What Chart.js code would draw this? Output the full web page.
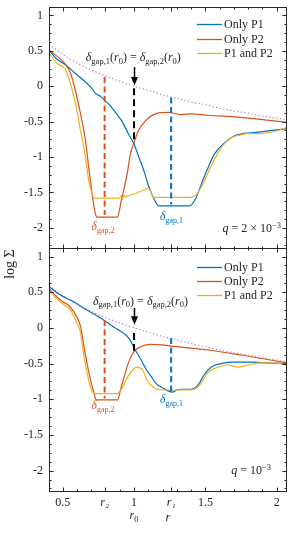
<!DOCTYPE html>
<html><head><meta charset="utf-8">
<script src="https://cdn.jsdelivr.net/npm/chart.js@4.4.1/dist/chart.umd.min.js"></script>
<style>
html,body{margin:0;padding:0;background:#fff;}
#wrap{position:relative;width:299px;height:533px;overflow:hidden;background:#fff;}
canvas{position:absolute;left:0;top:0;}
</style></head><body>
<div id="wrap"><canvas id="c1" width="299" height="533"></canvas><canvas id="c2" width="299" height="533"></canvas></div>
<script>
// ---------- data ----------
const xMin = 0.404, xMax = 2.072, yMin = -2.30, yMax = 1.12;
const r1 = 1.26, r2 = 0.794, r0 = 1.0;
const xTickValues = [0.5, r2, 1, r1, 1.5, 2];
const xTickLabels = ['0.5', 'r₂', '1', 'r₁', '1.5', '2'];
const yTickValues = [-2, -1.5, -1, -0.5, 0, 0.5, 1];
const yTickLabels = ['-2', '-1.5', '-1', '-0.5', '0', '0.5', '1'];
const seriesNames = ['Only P1', 'Only P2', 'P1 and P2'];

// initial profile (dotted)
const initR = [0.404,0.5,0.6,0.7,0.8,0.9,1.0,1.1,1.2,1.3,1.4,1.5,1.6,1.7,1.8,1.9,2.0,2.072];
const initY = [0.59,0.45,0.33,0.23,0.145,0.07,0.0,-0.06,-0.12,-0.17,-0.22,-0.26,-0.31,-0.35,-0.38,-0.42,-0.45,-0.475];

// top panel, q = 2e-3
const topP1R = [0.404,0.45,0.52,0.59,0.66,0.70,0.73,0.77,0.80,0.84,0.87,0.92,0.96,1.00,1.03,1.07,1.10,1.13,1.15,1.17,1.39,1.434,1.47,1.517,1.563,1.634,1.704,1.76,1.82,1.90,1.986,2.072];
const topP1Y = [0.51,0.40,0.30,0.18,0.06,-0.02,-0.10,-0.15,-0.21,-0.29,-0.37,-0.51,-0.67,-0.82,-0.98,-1.20,-1.40,-1.55,-1.63,-1.69,-1.69,-1.58,-1.39,-1.16,-0.96,-0.80,-0.70,-0.67,-0.66,-0.64,-0.62,-0.60];
const topP2R = [0.404,0.45,0.52,0.554,0.589,0.625,0.66,0.683,0.707,0.725,0.742,0.885,0.895,0.91,0.93,0.955,0.975,1.00,1.03,1.08,1.15,1.24,1.33,1.40,1.52,1.75,1.98,2.072];
const topP2Y = [0.51,0.44,0.31,0.19,-0.06,-0.39,-0.77,-1.16,-1.53,-1.77,-1.85,-1.85,-1.78,-1.62,-1.45,-1.20,-0.95,-0.80,-0.63,-0.49,-0.39,-0.37,-0.40,-0.39,-0.41,-0.44,-0.49,-0.51];
const topBothR = [0.404,0.45,0.52,0.554,0.589,0.625,0.66,0.683,0.707,0.72,0.90,0.912,0.92,0.928,0.94,0.97,1.01,1.05,1.08,1.10,1.12,1.135,1.40,1.446,1.48,1.54,1.61,1.68,1.74,1.80,1.87,1.986,2.072];
const topBothY = [0.47,0.34,0.23,0.04,-0.24,-0.63,-1.01,-1.34,-1.52,-1.58,-1.58,-1.54,-1.60,-1.54,-1.56,-1.54,-1.52,-1.48,-1.46,-1.44,-1.50,-1.57,-1.57,-1.51,-1.39,-1.13,-0.87,-0.73,-0.69,-0.67,-0.67,-0.64,-0.58];
const topGap2Y = [0.13, -1.82];
const topGap1Y = [-0.16, -1.67];
const topR0Y = [-0.03, -0.81];
const topArrowY = [0.27, 0.01];

// bottom panel, q = 1e-3
const botP1R = [0.404,0.484,0.575,0.67,0.765,0.86,0.93,0.97,1.00,1.05,1.09,1.12,1.15,1.20,1.27,1.30,1.33,1.40,1.45,1.49,1.54,1.61,1.70,1.82,1.94,2.072];
const botP1Y = [0.58,0.46,0.37,0.25,0.14,0.01,-0.08,-0.16,-0.28,-0.45,-0.60,-0.68,-0.77,-0.84,-0.90,-0.87,-0.86,-0.86,-0.80,-0.66,-0.55,-0.50,-0.48,-0.48,-0.49,-0.50];
const botP2R = [0.404,0.484,0.55,0.60,0.625,0.645,0.67,0.695,0.72,0.735,0.885,0.905,0.93,0.96,1.00,1.05,1.12,1.21,1.28,1.52,1.75,2.072];
const botP2Y = [0.55,0.39,0.30,0.15,0.02,-0.21,-0.49,-0.73,-0.92,-1.01,-1.01,-0.87,-0.69,-0.49,-0.33,-0.26,-0.23,-0.24,-0.26,-0.31,-0.38,-0.49];
const botBothR = [0.404,0.484,0.554,0.60,0.625,0.645,0.67,0.695,0.72,0.74,0.885,0.92,0.955,0.99,1.02,1.06,1.09,1.14,1.21,1.40,1.46,1.52,1.59,1.66,1.73,1.80,1.89,1.98,2.072];
const botBothY = [0.53,0.36,0.25,0.07,-0.07,-0.35,-0.62,-0.83,-0.92,-0.92,-0.92,-0.83,-0.69,-0.59,-0.55,-0.59,-0.73,-0.84,-0.87,-0.87,-0.80,-0.62,-0.55,-0.52,-0.55,-0.52,-0.49,-0.49,-0.52];
const botGap2Y = [0.11, -0.99];
const botGap1Y = [-0.14, -0.90];
const botR0Y = [-0.07, -0.32];
const botArrowY = [0.28, 0.045];

// ---------- styling ----------
const SERIF = '"Liberation Serif","DejaVu Serif",serif';
const BLUE = '#0072BD', ORANGE = '#D95319', YELLOW = '#EDB120', PURPLE = '#a873bf', AXIS = '#262626';
const COLORS = [BLUE, ORANGE, YELLOW];

function xy(rs, ys) { return rs.map((r, i) => ({x: r, y: ys[i]})); }
function fnt(size, style) { return (style || 'normal') + ' ' + size + 'px ' + SERIF; }
function runs(ctx, parts, x, y, align, color) {
  ctx.save();
  ctx.fillStyle = color || AXIS; ctx.textBaseline = 'alphabetic'; ctx.textAlign = 'left';
  let w = 0;
  parts.forEach(p => { ctx.font = fnt(p[1], p[2]); w += ctx.measureText(p[0]).width; });
  let cx = align === 'center' ? x - w / 2 : align === 'right' ? x - w : x;
  parts.forEach(p => { ctx.font = fnt(p[1], p[2]); ctx.fillText(p[0], cx, y + (p[3] || 0)); cx += ctx.measureText(p[0]).width; });
  ctx.restore();
}
const SUB = 8.5, MAIN = 12;
const eqParts = [['δ',MAIN,'italic'],['gap,1',SUB,'',2.5],['(',MAIN],['r',MAIN,'italic'],['0',SUB,'',2.5],[')',MAIN],[' = ',MAIN],
                 ['δ',MAIN,'italic'],['gap,2',SUB,'',2.5],['(',MAIN],['r',MAIN,'italic'],['0',SUB,'',2.5],[')',MAIN]];

function drawFrame(chart) {
  const {ctx, chartArea: a, scales: {x, y}} = chart;
  ctx.save();
  ctx.strokeStyle = AXIS; ctx.lineWidth = 1;
  ctx.beginPath();
  const T = a.top, B = a.bottom, L = a.left, R = a.right;
  const vl = (p, len) => { const X = Math.round(p) + 0.5; ctx.moveTo(X, B); ctx.lineTo(X, B - len); ctx.moveTo(X, T); ctx.lineTo(X, T + len); };
  const hl = (p, len) => { const Y = Math.round(p) + 0.5; ctx.moveTo(L, Y); ctx.lineTo(L + len, Y); ctx.moveTo(R, Y); ctx.lineTo(R - len, Y); };
  xTickValues.forEach(v => vl(x.getPixelForValue(v), 4.5));
  for (let k = 5; k <= 20; k++) {
    const v = k / 10;
    if (xTickValues.some(t => Math.abs(t - v) < 0.03)) continue;
    vl(x.getPixelForValue(v), 2.5);
  }
  yTickValues.forEach(v => hl(y.getPixelForValue(v), 4.5));
  for (let k = -18; k <= 9; k++) {
    const v = k / 8;
    if (v < yMin || v > yMax || Math.abs(v * 2 - Math.round(v * 2)) < 1e-6) continue;
    hl(y.getPixelForValue(v), 2.5);
  }
  ctx.stroke();
  ctx.strokeRect(L + 0.5, T + 0.5, R - L - 1, B - T - 1);
  ctx.restore();
}

function makePanel(id, cfg) {
  const curve = {pointRadius: 0, borderWidth: 1.2, fill: false, cubicInterpolationMode: 'monotone'};
  const dash = {pointRadius: 0, borderWidth: 2, fill: false, borderDash: [6, 3.5]};
  const datasets = [
    Object.assign({}, curve, {data: xy(initR, initY), borderColor: PURPLE, borderWidth: 1.1, borderDash: [1.2, 2.4], order: 6}),
    Object.assign({}, curve, {data: xy(cfg.p1r, cfg.p1y), borderColor: BLUE, order: 5}),
    Object.assign({}, curve, {data: xy(cfg.p2r, cfg.p2y), borderColor: ORANGE, order: 4}),
    Object.assign({}, curve, {data: xy(cfg.bothR, cfg.bothY), borderColor: YELLOW, order: 3}),
    Object.assign({}, dash, {data: xy([r2, r2], cfg.gap2Y), borderColor: ORANGE, order: 1}),
    Object.assign({}, dash, {data: xy([r1, r1], cfg.gap1Y), borderColor: BLUE, order: 1}),
    Object.assign({}, dash, {data: xy([r0, r0], cfg.r0Y), borderColor: '#000', borderDash: [7, 4], order: 1}),
  ];
  const decor = {
    id: 'decor',
    afterDraw(chart) {
      const {ctx, scales: {x, y}} = chart;
      drawFrame(chart);
      // arrow
      const ax = Math.round(x.getPixelForValue(r0)) + 0.5;
      const y0 = y.getPixelForValue(cfg.arrowY[0]), y1 = y.getPixelForValue(cfg.arrowY[1]);
      ctx.save();
      ctx.strokeStyle = '#000'; ctx.fillStyle = '#000'; ctx.lineWidth = 1.5;
      ctx.beginPath(); ctx.moveTo(ax, y0); ctx.lineTo(ax, y1 - 7); ctx.stroke();
      ctx.beginPath(); ctx.moveTo(ax - 3.5, y1 - 8.5); ctx.lineTo(ax + 3.5, y1 - 8.5); ctx.lineTo(ax, y1); ctx.closePath(); ctx.fill();
      ctx.restore();
      // equation
      runs(ctx, eqParts, cfg.eq.x, cfg.eq.y, 'center');
      // legend
      seriesNames.forEach((n, i) => {
        const ly = cfg.legendY[i] + 0.5;
        ctx.save(); ctx.strokeStyle = COLORS[i]; ctx.lineWidth = 1.3;
        ctx.beginPath(); ctx.moveTo(197, ly); ctx.lineTo(222, ly); ctx.stroke(); ctx.restore();
        ctx.save(); ctx.fillStyle = AXIS; ctx.font = fnt(12); ctx.textBaseline = 'middle'; ctx.textAlign = 'left';
        ctx.fillText(n, 224, ly + 0.5); ctx.restore();
      });
      // q label
      runs(ctx, cfg.qParts, cfg.q.x, cfg.q.y, 'right');
      // gap labels
      runs(ctx, [['δ',11.5,'italic'],['gap,2',8,'',2.5]], cfg.gap2Lbl.x, cfg.gap2Lbl.y, 'center', ORANGE);
      runs(ctx, [['δ',11.5,'italic'],['gap,1',8,'',2.5]], cfg.gap1Lbl.x, cfg.gap1Lbl.y, 'center', BLUE);
      if (cfg.showX) {
        runs(ctx, [['r',12,'italic'],['0',SUB,'',2.5]], x.getPixelForValue(r0), 519, 'center');
        runs(ctx, [['r',12.5,'italic']], (chart.chartArea.left + chart.chartArea.right) / 2, 521, 'center');
        ctx.save(); ctx.translate(10, 264); ctx.rotate(-Math.PI / 2);
        ctx.fillStyle = AXIS; ctx.font = fnt(14); ctx.textAlign = 'center'; ctx.textBaseline = 'middle';
        ctx.fillText('log Σ', 0, 0); ctx.restore();
      }
    }
  };
  return new Chart(document.getElementById(id), {
    type: 'line',
    data: {datasets},
    plugins: [decor],
    options: {
      responsive: false, animation: false, events: [],
      layout: {padding: {top: cfg.padTop, bottom: cfg.padBottom, left: 0, right: 12}},
      plugins: {legend: {display: false}, tooltip: {enabled: false}},
      scales: {
        x: {
          type: 'linear', min: xMin, max: xMax,
          grid: {display: false, drawTicks: false}, border: {display: false},
          afterBuildTicks: s => { s.ticks = xTickValues.map(v => ({value: v})); },
          afterFit: s => { s.height = cfg.xHeight; s.paddingLeft = 0; s.paddingRight = 0; },
          ticks: {
            display: cfg.showX, autoSkip: false, maxRotation: 0, minRotation: 0, padding: 4, color: AXIS,
            callback: (v, i) => xTickLabels[i],
            font: c => ({family: SERIF, size: 12, style: (xTickLabels[c.index] || '').startsWith('r') ? 'italic' : 'normal'})
          }
        },
        y: {
          type: 'linear', min: yMin, max: yMax,
          grid: {display: false, drawTicks: false}, border: {display: false},
          afterBuildTicks: s => { s.ticks = yTickValues.map(v => ({value: v})); },
          afterFit: s => { s.width = 49; s.paddingTop = 0; s.paddingBottom = 0; },
          ticks: {padding: 6, color: AXIS, callback: (v, i) => yTickLabels[i], font: {family: SERIF, size: 12}}
        }
      }
    }
  });
}

makePanel('c1', {
  p1r: topP1R, p1y: topP1Y, p2r: topP2R, p2y: topP2Y, bothR: topBothR, bothY: topBothY,
  gap2Y: topGap2Y, gap1Y: topGap1Y, r0Y: topR0Y, arrowY: topArrowY,
  padTop: 7, padBottom: 284, xHeight: 0, showX: false,
  eq: {x: 133.3, y: 61}, legendY: [24, 39, 53],
  qParts: [['q',12,'italic'],[' = 2 × 10',12],['−3',8.5,'',-4.5]], q: {x: 281, y: 232},
  gap2Lbl: {x: 103, y: 230}, gap1Lbl: {x: 171.5, y: 220}
});
makePanel('c2', {
  p1r: botP1R, p1y: botP1Y, p2r: botP2R, p2y: botP2Y, bothR: botBothR, bothY: botBothY,
  gap2Y: botGap2Y, gap1Y: botGap1Y, r0Y: botR0Y, arrowY: botArrowY,
  padTop: 248, padBottom: 0, xHeight: 41, showX: true,
  eq: {x: 140.5, y: 304.5}, legendY: [267, 281, 295],
  qParts: [['q',12,'italic'],[' = 10',12],['−3',8.5,'',-4.5]], q: {x: 271, y: 474},
  gap2Lbl: {x: 103, y: 409}, gap1Lbl: {x: 171.5, y: 403}
});
</script>
</body></html>
